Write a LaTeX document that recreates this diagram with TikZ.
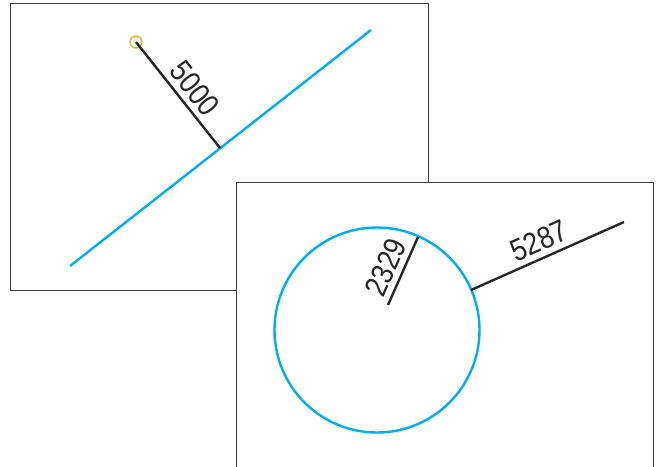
\documentclass[tikz,border=0pt]{standalone}
\usepackage{fontspec}
\setmainfont{Liberation Sans}
\newfontfamily\condfont[FakeStretch=0.86]{Liberation Sans}
\definecolor{cyanline}{RGB}{0,174,239}
\definecolor{orangec}{RGB}{240,180,30}
\definecolor{frame}{RGB}{60,60,60}
\begin{document}
\begin{tikzpicture}[x=1pt,y=-1pt,
  panel/.style={draw=frame,line width=1.2pt,fill=white},
  curve/.style={draw=cyanline,line width=2.4pt},
  dim/.style={draw=black!85,line width=2.4pt},
  lbl/.style={sloped,above,inner sep=5pt,font=\condfont\fontsize{31}{31}\selectfont,text=black!85}]
\useasboundingbox (0,0) rectangle (661,466);
\clip (0,0) rectangle (661,466);
% first panel
\node[panel,minimum width=418,minimum height=287,inner sep=0,anchor=north west] (p1) at (10,3) {};
\coordinate (l1) at (70,266);
\coordinate (l2) at (371,30);
\draw[curve] (l1) -- (l2);
\coordinate (o) at (136,42);
\coordinate (f) at (220,148);
\node[draw=orangec,line width=1.4pt,circle,minimum size=12,inner sep=0] (oc) at (o) {};
\draw[dim] (o) -- node[lbl,pos=0.54] (t1) {5000} (f);
% second panel
\node[panel,minimum width=417,minimum height=300,inner sep=0,anchor=north west] (p2) at (236,182) {};
\coordinate (c) at (377,330);
\node[draw=cyanline,line width=2.4pt,circle,minimum size=205,inner sep=0] (circ) at (c) {};
\coordinate (r1) at (388,305);
\coordinate (r2) at (418,237);
\draw[dim] (r1) -- node[lbl,pos=0.45] (t2) {2329} (r2);
\coordinate (e1) at (471,290);
\coordinate (e2) at (624,222);
\draw[dim] (e1) -- node[lbl,pos=0.49] (t3) {5287} (e2);
\end{tikzpicture}
\end{document}
